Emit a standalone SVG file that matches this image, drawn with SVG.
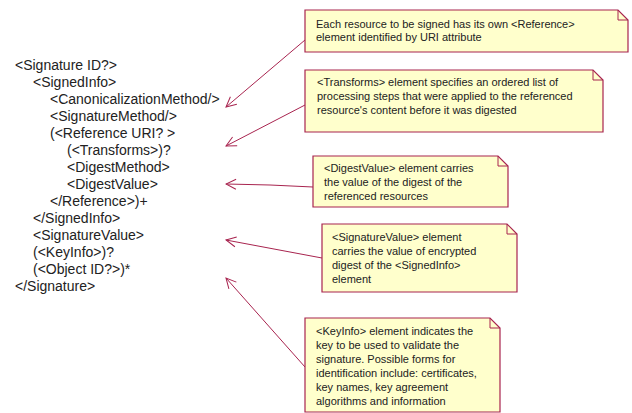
<svg xmlns="http://www.w3.org/2000/svg" width="632" height="413" viewBox="0 0 632 413">
<style>
.code{font-family:"Liberation Sans",Arial,sans-serif;font-size:14px;fill:#222}
.note{fill:#ffffcc;stroke:#a8244f;stroke-width:1.2}
.ear{fill:none;stroke:#a8244f;stroke-width:1}
.nt{font-family:"Liberation Sans",Arial,sans-serif;font-size:11px;fill:#222}
.conn{stroke:#a8244f;stroke-width:1;fill:none;marker-end:url(#arr)}
</style>
<defs>
<marker id="arr" viewBox="0 0 12 12" refX="11" refY="6" markerWidth="12" markerHeight="12" markerUnits="userSpaceOnUse" orient="auto">
<path d="M1,1 L11,6 L1,11" fill="none" stroke="#a8244f" stroke-width="1"/>
</marker>
</defs>
<rect width="632" height="413" fill="#fff"/>
<g id="code">
<text class="code" x="15" y="70">&lt;Signature ID?&gt;</text>
<text class="code" x="33" y="87">&lt;SignedInfo&gt;</text>
<text class="code" x="50" y="104">&lt;CanonicalizationMethod/&gt;</text>
<text class="code" x="50" y="121">&lt;SignatureMethod/&gt;</text>
<text class="code" x="50" y="138">(&lt;Reference URI? &gt;</text>
<text class="code" x="67" y="155">(&lt;Transforms&gt;)?</text>
<text class="code" x="67" y="172">&lt;DigestMethod&gt;</text>
<text class="code" x="67" y="189">&lt;DigestValue&gt;</text>
<text class="code" x="50" y="206">&lt;/Reference&gt;)+</text>
<text class="code" x="33" y="223">&lt;/SignedInfo&gt;</text>
<text class="code" x="33" y="240">&lt;SignatureValue&gt;</text>
<text class="code" x="33" y="257">(&lt;KeyInfo&gt;)?</text>
<text class="code" x="33" y="274">(&lt;Object ID?&gt;)*</text>
<text class="code" x="15" y="291">&lt;/Signature&gt;</text>
</g>
<g id="connectors">
<path class="conn" d="M305,40 L226,107"/>
<path class="conn" d="M305,105 L226,146"/>
<path class="conn" d="M313,187 L270,185 L226,184"/>
<path class="conn" d="M322,258 L226,240"/>
<path class="conn" d="M305,367 L226,278"/>
</g>
<g id="note1">
<path class="note" d="M305,10 H618 L628,20 V52 H305 Z"/>
<path class="ear" d="M618,10 V20 H628"/>
<text class="nt" x="316" y="28">Each resource to be signed has its own &lt;Reference&gt;</text>
<text class="nt" x="316" y="41">element identified by URI attribute</text>
</g>
<g id="note2">
<path class="note" d="M305,70 H593 L603,80 V132 H305 Z"/>
<path class="ear" d="M593,70 V80 H603"/>
<text class="nt" x="317" y="86">&lt;Transforms&gt; element specifies an ordered list of</text>
<text class="nt" x="317" y="100">processing steps that were applied to the referenced</text>
<text class="nt" x="317" y="114">resource's content before it was digested</text>
</g>
<g id="note3">
<path class="note" d="M313,156 H498 L508,166 V207 H313 Z"/>
<path class="ear" d="M498,156 V166 H508"/>
<text class="nt" x="324" y="172">&lt;DigestValue&gt; element carries</text>
<text class="nt" x="324" y="186">the value of the digest of the</text>
<text class="nt" x="324" y="200">referenced resources</text>
</g>
<g id="note4">
<path class="note" d="M322,224 H507 L517,234 V292 H322 Z"/>
<path class="ear" d="M507,224 V234 H517"/>
<text class="nt" x="332" y="241">&lt;SignatureValue&gt; element</text>
<text class="nt" x="332" y="255">carries the value of encrypted</text>
<text class="nt" x="332" y="269">digest of the &lt;SignedInfo&gt;</text>
<text class="nt" x="332" y="283">element</text>
</g>
<g id="note5">
<path class="note" d="M305,318 H490 L500,328 V412 H305 Z"/>
<path class="ear" d="M490,318 V328 H500"/>
<text class="nt" x="316" y="335">&lt;KeyInfo&gt; element indicates the</text>
<text class="nt" x="316" y="349">key to be used to validate the</text>
<text class="nt" x="316" y="363">signature. Possible forms for</text>
<text class="nt" x="316" y="377">identification include: certificates,</text>
<text class="nt" x="316" y="391">key names, key agreement</text>
<text class="nt" x="316" y="405">algorithms and information</text>
</g>
</svg>
